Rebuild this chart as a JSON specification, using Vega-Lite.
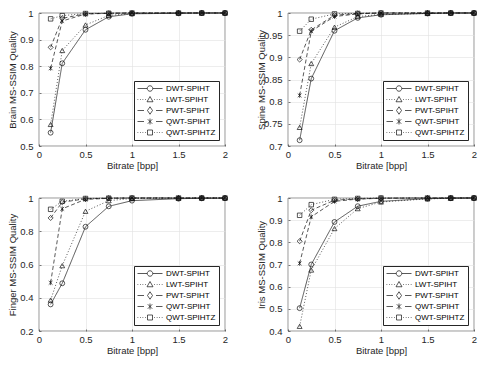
{
  "$schema": "https://vega.github.io/schema/vega-lite/v6.json",
  "background": "white",
  "padding": {"left": 6, "top": 7, "right": 5, "bottom": 5},
  "data": {"values": [
    {"panel":"Brain","series":"DWT-SPIHT","bitrate":0.125,"quality":0.55},
    {"panel":"Brain","series":"DWT-SPIHT","bitrate":0.25,"quality":0.811},
    {"panel":"Brain","series":"DWT-SPIHT","bitrate":0.5,"quality":0.937},
    {"panel":"Brain","series":"DWT-SPIHT","bitrate":0.75,"quality":0.986},
    {"panel":"Brain","series":"DWT-SPIHT","bitrate":1,"quality":0.997},
    {"panel":"Brain","series":"DWT-SPIHT","bitrate":1.5,"quality":0.999},
    {"panel":"Brain","series":"DWT-SPIHT","bitrate":1.75,"quality":1.0},
    {"panel":"Brain","series":"DWT-SPIHT","bitrate":2,"quality":1.0},
    {"panel":"Brain","series":"LWT-SPIHT","bitrate":0.125,"quality":0.581},
    {"panel":"Brain","series":"LWT-SPIHT","bitrate":0.25,"quality":0.859},
    {"panel":"Brain","series":"LWT-SPIHT","bitrate":0.5,"quality":0.955},
    {"panel":"Brain","series":"LWT-SPIHT","bitrate":0.75,"quality":0.991},
    {"panel":"Brain","series":"LWT-SPIHT","bitrate":1,"quality":0.998},
    {"panel":"Brain","series":"LWT-SPIHT","bitrate":1.5,"quality":1.0},
    {"panel":"Brain","series":"LWT-SPIHT","bitrate":1.75,"quality":1.0},
    {"panel":"Brain","series":"LWT-SPIHT","bitrate":2,"quality":1.0},
    {"panel":"Brain","series":"PWT-SPIHT","bitrate":0.125,"quality":0.871},
    {"panel":"Brain","series":"PWT-SPIHT","bitrate":0.25,"quality":0.98},
    {"panel":"Brain","series":"PWT-SPIHT","bitrate":0.5,"quality":0.997},
    {"panel":"Brain","series":"PWT-SPIHT","bitrate":0.75,"quality":0.999},
    {"panel":"Brain","series":"PWT-SPIHT","bitrate":1,"quality":1.0},
    {"panel":"Brain","series":"PWT-SPIHT","bitrate":1.5,"quality":1.0},
    {"panel":"Brain","series":"PWT-SPIHT","bitrate":1.75,"quality":1.0},
    {"panel":"Brain","series":"PWT-SPIHT","bitrate":2,"quality":1.0},
    {"panel":"Brain","series":"QWT-SPIHT","bitrate":0.125,"quality":0.792},
    {"panel":"Brain","series":"QWT-SPIHT","bitrate":0.25,"quality":0.97},
    {"panel":"Brain","series":"QWT-SPIHT","bitrate":0.5,"quality":0.996},
    {"panel":"Brain","series":"QWT-SPIHT","bitrate":0.75,"quality":0.999},
    {"panel":"Brain","series":"QWT-SPIHT","bitrate":1,"quality":1.0},
    {"panel":"Brain","series":"QWT-SPIHT","bitrate":1.5,"quality":1.0},
    {"panel":"Brain","series":"QWT-SPIHT","bitrate":1.75,"quality":1.0},
    {"panel":"Brain","series":"QWT-SPIHT","bitrate":2,"quality":1.0},
    {"panel":"Brain","series":"QWT-SPIHTZ","bitrate":0.125,"quality":0.978},
    {"panel":"Brain","series":"QWT-SPIHTZ","bitrate":0.25,"quality":0.99},
    {"panel":"Brain","series":"QWT-SPIHTZ","bitrate":0.5,"quality":0.998},
    {"panel":"Brain","series":"QWT-SPIHTZ","bitrate":0.75,"quality":0.999},
    {"panel":"Brain","series":"QWT-SPIHTZ","bitrate":1,"quality":1.0},
    {"panel":"Brain","series":"QWT-SPIHTZ","bitrate":1.5,"quality":1.0},
    {"panel":"Brain","series":"QWT-SPIHTZ","bitrate":1.75,"quality":1.0},
    {"panel":"Brain","series":"QWT-SPIHTZ","bitrate":2,"quality":1.0},

    {"panel":"Spine","series":"DWT-SPIHT","bitrate":0.125,"quality":0.713},
    {"panel":"Spine","series":"DWT-SPIHT","bitrate":0.25,"quality":0.852},
    {"panel":"Spine","series":"DWT-SPIHT","bitrate":0.5,"quality":0.96},
    {"panel":"Spine","series":"DWT-SPIHT","bitrate":0.75,"quality":0.989},
    {"panel":"Spine","series":"DWT-SPIHT","bitrate":1,"quality":0.996},
    {"panel":"Spine","series":"DWT-SPIHT","bitrate":1.5,"quality":0.999},
    {"panel":"Spine","series":"DWT-SPIHT","bitrate":1.75,"quality":1.0},
    {"panel":"Spine","series":"DWT-SPIHT","bitrate":2,"quality":1.0},
    {"panel":"Spine","series":"LWT-SPIHT","bitrate":0.125,"quality":0.742},
    {"panel":"Spine","series":"LWT-SPIHT","bitrate":0.25,"quality":0.886},
    {"panel":"Spine","series":"LWT-SPIHT","bitrate":0.5,"quality":0.968},
    {"panel":"Spine","series":"LWT-SPIHT","bitrate":0.75,"quality":0.992},
    {"panel":"Spine","series":"LWT-SPIHT","bitrate":1,"quality":0.997},
    {"panel":"Spine","series":"LWT-SPIHT","bitrate":1.5,"quality":0.999},
    {"panel":"Spine","series":"LWT-SPIHT","bitrate":1.75,"quality":1.0},
    {"panel":"Spine","series":"LWT-SPIHT","bitrate":2,"quality":1.0},
    {"panel":"Spine","series":"PWT-SPIHT","bitrate":0.125,"quality":0.895},
    {"panel":"Spine","series":"PWT-SPIHT","bitrate":0.25,"quality":0.962},
    {"panel":"Spine","series":"PWT-SPIHT","bitrate":0.5,"quality":0.995},
    {"panel":"Spine","series":"PWT-SPIHT","bitrate":0.75,"quality":0.999},
    {"panel":"Spine","series":"PWT-SPIHT","bitrate":1,"quality":1.0},
    {"panel":"Spine","series":"PWT-SPIHT","bitrate":1.5,"quality":1.0},
    {"panel":"Spine","series":"PWT-SPIHT","bitrate":1.75,"quality":1.0},
    {"panel":"Spine","series":"PWT-SPIHT","bitrate":2,"quality":1.0},
    {"panel":"Spine","series":"QWT-SPIHT","bitrate":0.125,"quality":0.814},
    {"panel":"Spine","series":"QWT-SPIHT","bitrate":0.25,"quality":0.959},
    {"panel":"Spine","series":"QWT-SPIHT","bitrate":0.5,"quality":0.992},
    {"panel":"Spine","series":"QWT-SPIHT","bitrate":0.75,"quality":0.998},
    {"panel":"Spine","series":"QWT-SPIHT","bitrate":1,"quality":1.0},
    {"panel":"Spine","series":"QWT-SPIHT","bitrate":1.5,"quality":1.0},
    {"panel":"Spine","series":"QWT-SPIHT","bitrate":1.75,"quality":1.0},
    {"panel":"Spine","series":"QWT-SPIHT","bitrate":2,"quality":1.0},
    {"panel":"Spine","series":"QWT-SPIHTZ","bitrate":0.125,"quality":0.959},
    {"panel":"Spine","series":"QWT-SPIHTZ","bitrate":0.25,"quality":0.986},
    {"panel":"Spine","series":"QWT-SPIHTZ","bitrate":0.5,"quality":0.998},
    {"panel":"Spine","series":"QWT-SPIHTZ","bitrate":0.75,"quality":0.999},
    {"panel":"Spine","series":"QWT-SPIHTZ","bitrate":1,"quality":1.0},
    {"panel":"Spine","series":"QWT-SPIHTZ","bitrate":1.5,"quality":1.0},
    {"panel":"Spine","series":"QWT-SPIHTZ","bitrate":1.75,"quality":1.0},
    {"panel":"Spine","series":"QWT-SPIHTZ","bitrate":2,"quality":1.0},

    {"panel":"Finger","series":"DWT-SPIHT","bitrate":0.125,"quality":0.36},
    {"panel":"Finger","series":"DWT-SPIHT","bitrate":0.25,"quality":0.487},
    {"panel":"Finger","series":"DWT-SPIHT","bitrate":0.5,"quality":0.827},
    {"panel":"Finger","series":"DWT-SPIHT","bitrate":0.75,"quality":0.95},
    {"panel":"Finger","series":"DWT-SPIHT","bitrate":1,"quality":0.984},
    {"panel":"Finger","series":"DWT-SPIHT","bitrate":1.5,"quality":0.996},
    {"panel":"Finger","series":"DWT-SPIHT","bitrate":1.75,"quality":0.998},
    {"panel":"Finger","series":"DWT-SPIHT","bitrate":2,"quality":0.999},
    {"panel":"Finger","series":"LWT-SPIHT","bitrate":0.125,"quality":0.386},
    {"panel":"Finger","series":"LWT-SPIHT","bitrate":0.25,"quality":0.593},
    {"panel":"Finger","series":"LWT-SPIHT","bitrate":0.5,"quality":0.92},
    {"panel":"Finger","series":"LWT-SPIHT","bitrate":0.75,"quality":0.984},
    {"panel":"Finger","series":"LWT-SPIHT","bitrate":1,"quality":0.997},
    {"panel":"Finger","series":"LWT-SPIHT","bitrate":1.5,"quality":0.999},
    {"panel":"Finger","series":"LWT-SPIHT","bitrate":1.75,"quality":1.0},
    {"panel":"Finger","series":"LWT-SPIHT","bitrate":2,"quality":1.0},
    {"panel":"Finger","series":"PWT-SPIHT","bitrate":0.125,"quality":0.88},
    {"panel":"Finger","series":"PWT-SPIHT","bitrate":0.25,"quality":0.975},
    {"panel":"Finger","series":"PWT-SPIHT","bitrate":0.5,"quality":0.995},
    {"panel":"Finger","series":"PWT-SPIHT","bitrate":0.75,"quality":0.999},
    {"panel":"Finger","series":"PWT-SPIHT","bitrate":1,"quality":1.0},
    {"panel":"Finger","series":"PWT-SPIHT","bitrate":1.5,"quality":1.0},
    {"panel":"Finger","series":"PWT-SPIHT","bitrate":1.75,"quality":1.0},
    {"panel":"Finger","series":"PWT-SPIHT","bitrate":2,"quality":1.0},
    {"panel":"Finger","series":"QWT-SPIHT","bitrate":0.125,"quality":0.49},
    {"panel":"Finger","series":"QWT-SPIHT","bitrate":0.25,"quality":0.935},
    {"panel":"Finger","series":"QWT-SPIHT","bitrate":0.5,"quality":0.992},
    {"panel":"Finger","series":"QWT-SPIHT","bitrate":0.75,"quality":0.998},
    {"panel":"Finger","series":"QWT-SPIHT","bitrate":1,"quality":1.0},
    {"panel":"Finger","series":"QWT-SPIHT","bitrate":1.5,"quality":1.0},
    {"panel":"Finger","series":"QWT-SPIHT","bitrate":1.75,"quality":1.0},
    {"panel":"Finger","series":"QWT-SPIHT","bitrate":2,"quality":1.0},
    {"panel":"Finger","series":"QWT-SPIHTZ","bitrate":0.125,"quality":0.932},
    {"panel":"Finger","series":"QWT-SPIHTZ","bitrate":0.25,"quality":0.98},
    {"panel":"Finger","series":"QWT-SPIHTZ","bitrate":0.5,"quality":0.997},
    {"panel":"Finger","series":"QWT-SPIHTZ","bitrate":0.75,"quality":0.999},
    {"panel":"Finger","series":"QWT-SPIHTZ","bitrate":1,"quality":1.0},
    {"panel":"Finger","series":"QWT-SPIHTZ","bitrate":1.5,"quality":1.0},
    {"panel":"Finger","series":"QWT-SPIHTZ","bitrate":1.75,"quality":1.0},
    {"panel":"Finger","series":"QWT-SPIHTZ","bitrate":2,"quality":1.0},

    {"panel":"Iris","series":"DWT-SPIHT","bitrate":0.125,"quality":0.503},
    {"panel":"Iris","series":"DWT-SPIHT","bitrate":0.25,"quality":0.7},
    {"panel":"Iris","series":"DWT-SPIHT","bitrate":0.5,"quality":0.892},
    {"panel":"Iris","series":"DWT-SPIHT","bitrate":0.75,"quality":0.963},
    {"panel":"Iris","series":"DWT-SPIHT","bitrate":1,"quality":0.985},
    {"panel":"Iris","series":"DWT-SPIHT","bitrate":1.5,"quality":0.997},
    {"panel":"Iris","series":"DWT-SPIHT","bitrate":1.75,"quality":0.999},
    {"panel":"Iris","series":"DWT-SPIHT","bitrate":2,"quality":1.0},
    {"panel":"Iris","series":"LWT-SPIHT","bitrate":0.125,"quality":0.421},
    {"panel":"Iris","series":"LWT-SPIHT","bitrate":0.25,"quality":0.675},
    {"panel":"Iris","series":"LWT-SPIHT","bitrate":0.5,"quality":0.862},
    {"panel":"Iris","series":"LWT-SPIHT","bitrate":0.75,"quality":0.952},
    {"panel":"Iris","series":"LWT-SPIHT","bitrate":1,"quality":0.982},
    {"panel":"Iris","series":"LWT-SPIHT","bitrate":1.5,"quality":0.996},
    {"panel":"Iris","series":"LWT-SPIHT","bitrate":1.75,"quality":0.999},
    {"panel":"Iris","series":"LWT-SPIHT","bitrate":2,"quality":1.0},
    {"panel":"Iris","series":"PWT-SPIHT","bitrate":0.125,"quality":0.805},
    {"panel":"Iris","series":"PWT-SPIHT","bitrate":0.25,"quality":0.945},
    {"panel":"Iris","series":"PWT-SPIHT","bitrate":0.5,"quality":0.99},
    {"panel":"Iris","series":"PWT-SPIHT","bitrate":0.75,"quality":0.996},
    {"panel":"Iris","series":"PWT-SPIHT","bitrate":1,"quality":0.999},
    {"panel":"Iris","series":"PWT-SPIHT","bitrate":1.5,"quality":1.0},
    {"panel":"Iris","series":"PWT-SPIHT","bitrate":1.75,"quality":1.0},
    {"panel":"Iris","series":"PWT-SPIHT","bitrate":2,"quality":1.0},
    {"panel":"Iris","series":"QWT-SPIHT","bitrate":0.125,"quality":0.705},
    {"panel":"Iris","series":"QWT-SPIHT","bitrate":0.25,"quality":0.915},
    {"panel":"Iris","series":"QWT-SPIHT","bitrate":0.5,"quality":0.985},
    {"panel":"Iris","series":"QWT-SPIHT","bitrate":0.75,"quality":0.995},
    {"panel":"Iris","series":"QWT-SPIHT","bitrate":1,"quality":0.999},
    {"panel":"Iris","series":"QWT-SPIHT","bitrate":1.5,"quality":1.0},
    {"panel":"Iris","series":"QWT-SPIHT","bitrate":1.75,"quality":1.0},
    {"panel":"Iris","series":"QWT-SPIHT","bitrate":2,"quality":1.0},
    {"panel":"Iris","series":"QWT-SPIHTZ","bitrate":0.125,"quality":0.922},
    {"panel":"Iris","series":"QWT-SPIHTZ","bitrate":0.25,"quality":0.97},
    {"panel":"Iris","series":"QWT-SPIHTZ","bitrate":0.5,"quality":0.994},
    {"panel":"Iris","series":"QWT-SPIHTZ","bitrate":0.75,"quality":0.998},
    {"panel":"Iris","series":"QWT-SPIHTZ","bitrate":1,"quality":1.0},
    {"panel":"Iris","series":"QWT-SPIHTZ","bitrate":1.5,"quality":1.0},
    {"panel":"Iris","series":"QWT-SPIHTZ","bitrate":1.75,"quality":1.0},
    {"panel":"Iris","series":"QWT-SPIHTZ","bitrate":2,"quality":1.0}
  ]},
  "columns": 2,
  "spacing": {"row": 22, "column": 25},
  "resolve": {"scale": {"shape": "independent", "strokeDash": "independent"}},
  "concat": [
    {
      "width": 186, "height": 133,
      "transform": [{"filter": "datum.panel === 'Brain'"}],
      "encoding": {
        "x": {"field": "bitrate", "type": "quantitative", "scale": {"domain": [0, 2], "nice": false}, "axis": {"values": [0, 0.5, 1, 1.5, 2], "tickCount": 20, "format": "~g", "title": "Bitrate [bpp]"}},
        "y": {"field": "quality", "type": "quantitative", "scale": {"domain": [0.5, 1], "nice": false, "zero": false}, "axis": {"values": [0.5, 0.6, 0.7, 0.8, 0.9, 1], "tickCount": 20, "format": "~g", "title": "Brain MS-SSIM Quality"}}
      },
      "layer": [
        {"mark": {"type": "line", "stroke": "#111", "strokeWidth": 0.7},
         "encoding": {"strokeDash": {"field": "series", "type": "nominal", "scale": {"range": [[1, 0], [1, 2], [4, 2.5], [4, 2.5], [1, 2]]}, "legend": null}}},
        {"transform": [{"filter": "datum.series === 'DWT-SPIHT'"}], "mark": {"type": "point", "shape": "circle", "filled": false, "stroke": "#111", "strokeWidth": 0.7, "size": 24, "opacity": 1}},
        {"transform": [{"filter": "datum.series === 'LWT-SPIHT'"}], "mark": {"type": "point", "shape": "triangle-up", "filled": false, "stroke": "#111", "strokeWidth": 0.7, "size": 24, "opacity": 1}},
        {"transform": [{"filter": "datum.series === 'PWT-SPIHT'"}], "mark": {"type": "point", "shape": "diamond", "filled": false, "stroke": "#111", "strokeWidth": 0.7, "size": 26, "opacity": 1}},
        {"transform": [{"filter": "datum.series === 'QWT-SPIHT'"}], "mark": {"type": "point", "shape": "M-0.8,-0.8L0.8,0.8M-0.8,0.8L0.8,-0.8M0,-1L0,1", "filled": false, "stroke": "#111", "strokeWidth": 0.7, "size": 22, "opacity": 1}},
        {"transform": [{"filter": "datum.series === 'QWT-SPIHTZ'"}], "mark": {"type": "point", "shape": "square", "filled": false, "stroke": "#111", "strokeWidth": 0.7, "size": 20, "opacity": 1}},
        {"transform": [{"filter": "datum.bitrate > 100"}],
         "mark": {"type": "point", "filled": false, "stroke": "#111", "strokeWidth": 0.7, "opacity": 1},
         "encoding": {"shape": {"field": "series", "type": "nominal", "scale": {"domain": ["DWT-SPIHT", "LWT-SPIHT", "PWT-SPIHT", "QWT-SPIHT", "QWT-SPIHTZ"], "range": ["M-1,0L-0.22,0M0.22,0L1,0M0.22,0A0.22,0.22 0 1 1 -0.22,0A0.22,0.22 0 1 1 0.22,0", "M-1,0L-0.94,0M-0.8,0L-0.74,0M-0.6,0L-0.54,0M-0.4,0L-0.34,0M0.34,0L0.4,0M0.54,0L0.6,0M0.74,0L0.8,0M0.94,0L1,0M0,-0.24L0.24,0.18L-0.24,0.18Z", "M-1,0L-0.48,0M0.48,0L1,0M0,-0.3L0.2,0L0,0.3L-0.2,0Z", "M-1,0L-0.48,0M0.48,0L1,0M-0.18,-0.18L0.18,0.18M-0.18,0.18L0.18,-0.18M0,-0.24L0,0.24", "M-1,0L-0.94,0M-0.8,0L-0.74,0M-0.6,0L-0.54,0M-0.4,0L-0.34,0M0.34,0L0.4,0M0.54,0L0.6,0M0.74,0L0.8,0M0.94,0L1,0M-0.2,-0.2L0.2,-0.2L0.2,0.2L-0.2,0.2Z"]}, "legend": {"title": null}}}}
      ]
    },
    {
      "width": 186, "height": 133,
      "transform": [{"filter": "datum.panel === 'Spine'"}],
      "encoding": {
        "x": {"field": "bitrate", "type": "quantitative", "scale": {"domain": [0, 2], "nice": false}, "axis": {"values": [0, 0.5, 1, 1.5, 2], "tickCount": 20, "format": "~g", "title": "Bitrate [bpp]"}},
        "y": {"field": "quality", "type": "quantitative", "scale": {"domain": [0.7, 1], "nice": false, "zero": false}, "axis": {"values": [0.7, 0.75, 0.8, 0.85, 0.9, 0.95, 1], "tickCount": 20, "format": "~g", "title": "Spine MS-SSIM Quality"}}
      },
      "layer": [
        {"mark": {"type": "line", "stroke": "#111", "strokeWidth": 0.7},
         "encoding": {"strokeDash": {"field": "series", "type": "nominal", "scale": {"range": [[1, 0], [1, 2], [4, 2.5], [4, 2.5], [1, 2]]}, "legend": null}}},
        {"transform": [{"filter": "datum.series === 'DWT-SPIHT'"}], "mark": {"type": "point", "shape": "circle", "filled": false, "stroke": "#111", "strokeWidth": 0.7, "size": 24, "opacity": 1}},
        {"transform": [{"filter": "datum.series === 'LWT-SPIHT'"}], "mark": {"type": "point", "shape": "triangle-up", "filled": false, "stroke": "#111", "strokeWidth": 0.7, "size": 24, "opacity": 1}},
        {"transform": [{"filter": "datum.series === 'PWT-SPIHT'"}], "mark": {"type": "point", "shape": "diamond", "filled": false, "stroke": "#111", "strokeWidth": 0.7, "size": 26, "opacity": 1}},
        {"transform": [{"filter": "datum.series === 'QWT-SPIHT'"}], "mark": {"type": "point", "shape": "M-0.8,-0.8L0.8,0.8M-0.8,0.8L0.8,-0.8M0,-1L0,1", "filled": false, "stroke": "#111", "strokeWidth": 0.7, "size": 22, "opacity": 1}},
        {"transform": [{"filter": "datum.series === 'QWT-SPIHTZ'"}], "mark": {"type": "point", "shape": "square", "filled": false, "stroke": "#111", "strokeWidth": 0.7, "size": 20, "opacity": 1}},
        {"transform": [{"filter": "datum.bitrate > 100"}],
         "mark": {"type": "point", "filled": false, "stroke": "#111", "strokeWidth": 0.7, "opacity": 1},
         "encoding": {"shape": {"field": "series", "type": "nominal", "scale": {"domain": ["DWT-SPIHT", "LWT-SPIHT", "PWT-SPIHT", "QWT-SPIHT", "QWT-SPIHTZ"], "range": ["M-1,0L-0.22,0M0.22,0L1,0M0.22,0A0.22,0.22 0 1 1 -0.22,0A0.22,0.22 0 1 1 0.22,0", "M-1,0L-0.94,0M-0.8,0L-0.74,0M-0.6,0L-0.54,0M-0.4,0L-0.34,0M0.34,0L0.4,0M0.54,0L0.6,0M0.74,0L0.8,0M0.94,0L1,0M0,-0.24L0.24,0.18L-0.24,0.18Z", "M-1,0L-0.48,0M0.48,0L1,0M0,-0.3L0.2,0L0,0.3L-0.2,0Z", "M-1,0L-0.48,0M0.48,0L1,0M-0.18,-0.18L0.18,0.18M-0.18,0.18L0.18,-0.18M0,-0.24L0,0.24", "M-1,0L-0.94,0M-0.8,0L-0.74,0M-0.6,0L-0.54,0M-0.4,0L-0.34,0M0.34,0L0.4,0M0.54,0L0.6,0M0.74,0L0.8,0M0.94,0L1,0M-0.2,-0.2L0.2,-0.2L0.2,0.2L-0.2,0.2Z"]}, "legend": {"title": null}}}}
      ]
    },
    {
      "width": 186, "height": 133,
      "transform": [{"filter": "datum.panel === 'Finger'"}],
      "encoding": {
        "x": {"field": "bitrate", "type": "quantitative", "scale": {"domain": [0, 2], "nice": false}, "axis": {"values": [0, 0.5, 1, 1.5, 2], "tickCount": 20, "format": "~g", "title": "Bitrate [bpp]"}},
        "y": {"field": "quality", "type": "quantitative", "scale": {"domain": [0.2, 1], "nice": false, "zero": false}, "axis": {"values": [0.2, 0.4, 0.6, 0.8, 1], "tickCount": 20, "format": "~g", "title": "Finger MS-SSIM Quality"}}
      },
      "layer": [
        {"mark": {"type": "line", "stroke": "#111", "strokeWidth": 0.7},
         "encoding": {"strokeDash": {"field": "series", "type": "nominal", "scale": {"range": [[1, 0], [1, 2], [4, 2.5], [4, 2.5], [1, 2]]}, "legend": null}}},
        {"transform": [{"filter": "datum.series === 'DWT-SPIHT'"}], "mark": {"type": "point", "shape": "circle", "filled": false, "stroke": "#111", "strokeWidth": 0.7, "size": 24, "opacity": 1}},
        {"transform": [{"filter": "datum.series === 'LWT-SPIHT'"}], "mark": {"type": "point", "shape": "triangle-up", "filled": false, "stroke": "#111", "strokeWidth": 0.7, "size": 24, "opacity": 1}},
        {"transform": [{"filter": "datum.series === 'PWT-SPIHT'"}], "mark": {"type": "point", "shape": "diamond", "filled": false, "stroke": "#111", "strokeWidth": 0.7, "size": 26, "opacity": 1}},
        {"transform": [{"filter": "datum.series === 'QWT-SPIHT'"}], "mark": {"type": "point", "shape": "M-0.8,-0.8L0.8,0.8M-0.8,0.8L0.8,-0.8M0,-1L0,1", "filled": false, "stroke": "#111", "strokeWidth": 0.7, "size": 22, "opacity": 1}},
        {"transform": [{"filter": "datum.series === 'QWT-SPIHTZ'"}], "mark": {"type": "point", "shape": "square", "filled": false, "stroke": "#111", "strokeWidth": 0.7, "size": 20, "opacity": 1}},
        {"transform": [{"filter": "datum.bitrate > 100"}],
         "mark": {"type": "point", "filled": false, "stroke": "#111", "strokeWidth": 0.7, "opacity": 1},
         "encoding": {"shape": {"field": "series", "type": "nominal", "scale": {"domain": ["DWT-SPIHT", "LWT-SPIHT", "PWT-SPIHT", "QWT-SPIHT", "QWT-SPIHTZ"], "range": ["M-1,0L-0.22,0M0.22,0L1,0M0.22,0A0.22,0.22 0 1 1 -0.22,0A0.22,0.22 0 1 1 0.22,0", "M-1,0L-0.94,0M-0.8,0L-0.74,0M-0.6,0L-0.54,0M-0.4,0L-0.34,0M0.34,0L0.4,0M0.54,0L0.6,0M0.74,0L0.8,0M0.94,0L1,0M0,-0.24L0.24,0.18L-0.24,0.18Z", "M-1,0L-0.48,0M0.48,0L1,0M0,-0.3L0.2,0L0,0.3L-0.2,0Z", "M-1,0L-0.48,0M0.48,0L1,0M-0.18,-0.18L0.18,0.18M-0.18,0.18L0.18,-0.18M0,-0.24L0,0.24", "M-1,0L-0.94,0M-0.8,0L-0.74,0M-0.6,0L-0.54,0M-0.4,0L-0.34,0M0.34,0L0.4,0M0.54,0L0.6,0M0.74,0L0.8,0M0.94,0L1,0M-0.2,-0.2L0.2,-0.2L0.2,0.2L-0.2,0.2Z"]}, "legend": {"title": null}}}}
      ]
    },
    {
      "width": 186, "height": 133,
      "transform": [{"filter": "datum.panel === 'Iris'"}],
      "encoding": {
        "x": {"field": "bitrate", "type": "quantitative", "scale": {"domain": [0, 2], "nice": false}, "axis": {"values": [0, 0.5, 1, 1.5, 2], "tickCount": 20, "format": "~g", "title": "Bitrate [bpp]"}},
        "y": {"field": "quality", "type": "quantitative", "scale": {"domain": [0.4, 1], "nice": false, "zero": false}, "axis": {"values": [0.4, 0.5, 0.6, 0.7, 0.8, 0.9, 1], "tickCount": 20, "format": "~g", "title": "Iris MS-SSIM Quality"}}
      },
      "layer": [
        {"mark": {"type": "line", "stroke": "#111", "strokeWidth": 0.7},
         "encoding": {"strokeDash": {"field": "series", "type": "nominal", "scale": {"range": [[1, 0], [1, 2], [4, 2.5], [4, 2.5], [1, 2]]}, "legend": null}}},
        {"transform": [{"filter": "datum.series === 'DWT-SPIHT'"}], "mark": {"type": "point", "shape": "circle", "filled": false, "stroke": "#111", "strokeWidth": 0.7, "size": 24, "opacity": 1}},
        {"transform": [{"filter": "datum.series === 'LWT-SPIHT'"}], "mark": {"type": "point", "shape": "triangle-up", "filled": false, "stroke": "#111", "strokeWidth": 0.7, "size": 24, "opacity": 1}},
        {"transform": [{"filter": "datum.series === 'PWT-SPIHT'"}], "mark": {"type": "point", "shape": "diamond", "filled": false, "stroke": "#111", "strokeWidth": 0.7, "size": 26, "opacity": 1}},
        {"transform": [{"filter": "datum.series === 'QWT-SPIHT'"}], "mark": {"type": "point", "shape": "M-0.8,-0.8L0.8,0.8M-0.8,0.8L0.8,-0.8M0,-1L0,1", "filled": false, "stroke": "#111", "strokeWidth": 0.7, "size": 22, "opacity": 1}},
        {"transform": [{"filter": "datum.series === 'QWT-SPIHTZ'"}], "mark": {"type": "point", "shape": "square", "filled": false, "stroke": "#111", "strokeWidth": 0.7, "size": 20, "opacity": 1}},
        {"transform": [{"filter": "datum.bitrate > 100"}],
         "mark": {"type": "point", "filled": false, "stroke": "#111", "strokeWidth": 0.7, "opacity": 1},
         "encoding": {"shape": {"field": "series", "type": "nominal", "scale": {"domain": ["DWT-SPIHT", "LWT-SPIHT", "PWT-SPIHT", "QWT-SPIHT", "QWT-SPIHTZ"], "range": ["M-1,0L-0.22,0M0.22,0L1,0M0.22,0A0.22,0.22 0 1 1 -0.22,0A0.22,0.22 0 1 1 0.22,0", "M-1,0L-0.94,0M-0.8,0L-0.74,0M-0.6,0L-0.54,0M-0.4,0L-0.34,0M0.34,0L0.4,0M0.54,0L0.6,0M0.74,0L0.8,0M0.94,0L1,0M0,-0.24L0.24,0.18L-0.24,0.18Z", "M-1,0L-0.48,0M0.48,0L1,0M0,-0.3L0.2,0L0,0.3L-0.2,0Z", "M-1,0L-0.48,0M0.48,0L1,0M-0.18,-0.18L0.18,0.18M-0.18,0.18L0.18,-0.18M0,-0.24L0,0.24", "M-1,0L-0.94,0M-0.8,0L-0.74,0M-0.6,0L-0.54,0M-0.4,0L-0.34,0M0.34,0L0.4,0M0.54,0L0.6,0M0.74,0L0.8,0M0.94,0L1,0M-0.2,-0.2L0.2,-0.2L0.2,0.2L-0.2,0.2Z"]}, "legend": {"title": null}}}}
      ]
    }
  ],
  "config": {
    "font": "Liberation Sans",
    "view": {"stroke": "#262626", "strokeWidth": 0.6},
    "axis": {"labelFont": "Liberation Sans", "titleFont": "Liberation Sans", "labelFontSize": 9.5, "titleFontSize": 9.5, "titleFontWeight": "normal", "labelColor": "#262626", "titleColor": "#262626", "grid": true, "gridColor": "#e0e0e0", "gridWidth": 0.6, "domain": false, "ticks": true, "tickColor": "#262626", "tickWidth": 0.6, "tickSize": -2, "labelFlush": false, "labelOverlap": false},
    "axisX": {"labelPadding": 5.5, "titlePadding": 1, "labelAngle": 0},
    "axisY": {"labelPadding": 8, "titlePadding": 2, "minExtent": 20, "maxExtent": 20},
    "legend": {"orient": "bottom-right", "offset": 6, "symbolSize": 625, "clipHeight": 9, "labelFont": "Liberation Sans", "labelFontSize": 8, "labelColor": "#000", "strokeColor": "#262626", "fillColor": "white", "padding": 3, "rowPadding": 2, "labelOffset": 3, "symbolStrokeWidth": 0.7, "symbolStrokeColor": "#111", "symbolFillColor": "transparent"}
  }
}
